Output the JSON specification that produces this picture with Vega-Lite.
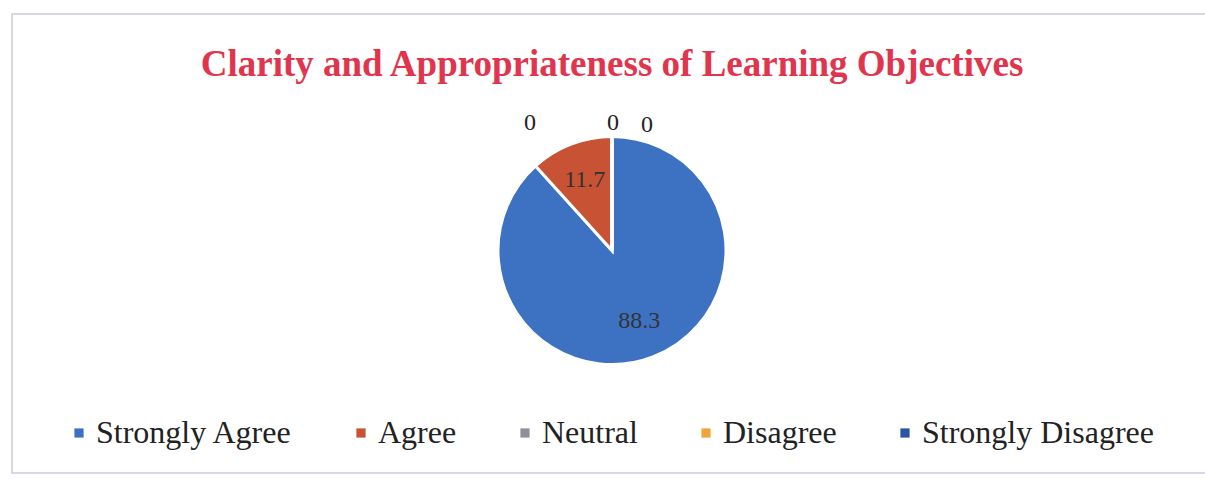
{
  "$schema": "https://vega.github.io/schema/vega-lite/v6.json",
  "width": 1200,
  "height": 459,
  "autosize": {"type": "none"},
  "padding": {"left": 12, "top": 14, "right": 0, "bottom": 6},
  "background": "white",
  "config": {"view": {"stroke": null}},
  "title": {
    "text": "Clarity and Appropriateness of Learning Objectives",
    "font": "Liberation Serif",
    "fontSize": 37,
    "fontWeight": "bold",
    "color": "#e0354d",
    "offset": -71,
    "frame": "group",
    "anchor": "middle"
  },
  "data": {
    "values": [
      {"category": "Strongly Agree", "value": 88.3, "rank": 1},
      {"category": "Agree", "value": 11.7, "rank": 2},
      {"category": "Neutral", "value": 0, "rank": 3},
      {"category": "Disagree", "value": 0, "rank": 4},
      {"category": "Strongly Disagree", "value": 0, "rank": 5}
    ]
  },
  "layer": [
    {
      "data": {"values": [{"frame": 1}]},
      "mark": {"type": "rect", "fill": "white", "fillOpacity": 0, "stroke": "#cbcbda", "strokeWidth": 1.5},
      "encoding": {}
    },
    {
      "mark": {"type": "arc", "outerRadius": 114, "stroke": "white", "strokeWidth": 3, "yOffset": 7},
      "encoding": {
        "theta": {"field": "value", "type": "quantitative", "stack": true},
        "order": {"field": "rank", "type": "quantitative"},
        "color": {
          "field": "category",
          "type": "nominal",
          "scale": {
            "domain": ["Strongly Agree", "Agree", "Neutral", "Disagree", "Strongly Disagree"],
            "range": ["#3d72c2", "#c85234", "#8f8f98", "#f0a53a", "#2c55a8"]
          },
          "legend": {
            "orient": "none",
            "legendX": 51,
            "legendY": 403,
            "direction": "horizontal",
            "title": null,
            "padding": 0,
            "symbolType": "square",
            "symbolSize": 85,
            "symbolStrokeWidth": 0,
            "labelFont": "Liberation Serif",
            "labelFontSize": 32,
            "labelColor": "#222222",
            "labelLimit": 500,
            "labelOffset": 1,
            "columnPadding": 52
          }
        }
      }
    },
    {
      "transform": [{"filter": "datum.value > 0"}],
      "mark": {"type": "text", "radius": 76, "yOffset": 7, "font": "Liberation Serif", "fontSize": 24, "fill": "#333333"},
      "encoding": {
        "theta": {"field": "value", "type": "quantitative", "stack": true},
        "order": {"field": "rank", "type": "quantitative"},
        "text": {"field": "value", "type": "quantitative", "format": ".1f"}
      }
    },
    {
      "transform": [{"filter": "datum.category == 'Neutral'"}],
      "mark": {"type": "text", "radius": 128, "yOffset": 7, "dx": -82, "font": "Liberation Serif", "fontSize": 24, "fill": "#222222"},
      "encoding": {
        "theta": {"field": "value", "type": "quantitative", "stack": true},
        "text": {"field": "value", "type": "quantitative"}
      }
    },
    {
      "transform": [{"filter": "datum.category == 'Disagree'"}],
      "mark": {"type": "text", "radius": 128, "yOffset": 7, "dx": 1, "font": "Liberation Serif", "fontSize": 24, "fill": "#222222"},
      "encoding": {
        "theta": {"field": "value", "type": "quantitative", "stack": true},
        "text": {"field": "value", "type": "quantitative"}
      }
    },
    {
      "transform": [{"filter": "datum.category == 'Strongly Disagree'"}],
      "mark": {"type": "text", "radius": 126, "yOffset": 7, "dx": 35, "font": "Liberation Serif", "fontSize": 24, "fill": "#222222"},
      "encoding": {
        "theta": {"field": "value", "type": "quantitative", "stack": true},
        "text": {"field": "value", "type": "quantitative"}
      }
    }
  ]
}
